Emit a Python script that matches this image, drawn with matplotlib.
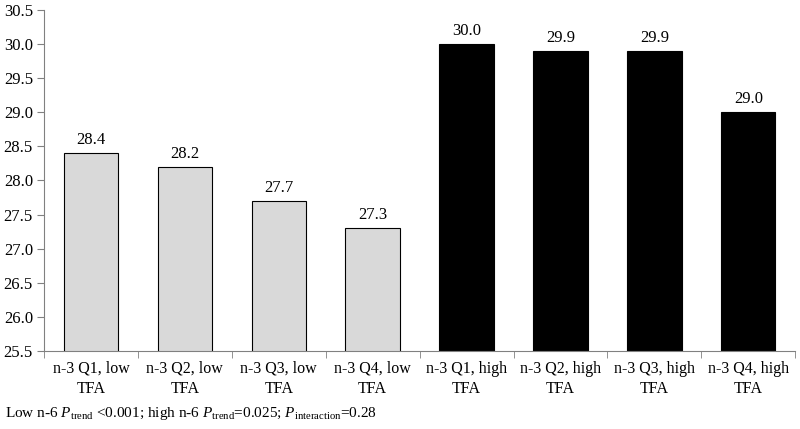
import numpy as np
import matplotlib
matplotlib.use("Agg")
import matplotlib.pyplot as plt

plt.rcParams['font.family'] = ['Liberation Serif', 'DejaVu Serif']
plt.rcParams['mathtext.fontset'] = 'custom'
plt.rcParams['mathtext.rm'] = 'Liberation Serif'
plt.rcParams['mathtext.it'] = 'Liberation Serif:italic'

categories = ['n-3 Q1, low\nTFA', 'n-3 Q2, low\nTFA', 'n-3 Q3, low\nTFA', 'n-3 Q4, low\nTFA',
              'n-3 Q1, high\nTFA', 'n-3 Q2, high\nTFA', 'n-3 Q3, high\nTFA', 'n-3 Q4, high\nTFA']
values = [28.4, 28.2, 27.7, 27.3, 30.0, 29.9, 29.9, 29.0]
colors = ['#d9d9d9'] * 4 + ['#000000'] * 4
yticks = np.arange(25.5, 30.51, 0.5)

fig = plt.figure(figsize=(8, 4.29), dpi=100)
ax = fig.add_axes([0.055, 0.182, 0.939, 0.795])

x = np.arange(len(categories))
ax.bar(x, values, width=0.58, color=colors, edgecolor='#000000', linewidth=0.8)
for xi, v in zip(x, values):
    ax.text(xi, v + 0.07, '%.1f' % v, ha='center', va='bottom', fontsize=12)

ax.set_ylim(25.5, 30.5)
ax.set_xlim(-0.5, len(categories) - 0.5)
ax.set_yticks(yticks)
ax.set_yticklabels(['%.1f' % t for t in yticks], fontsize=12)
ax.set_xticks(x)
ax.set_xticklabels(categories, fontsize=11.5, linespacing=1.4)
ax.tick_params(axis='x', length=0, pad=7)
ax.set_xticks(np.arange(-0.5, len(categories), 1.0), minor=True)
ax.tick_params(axis='x', which='minor', length=5, color='#808080')
ax.tick_params(axis='y', length=5, color='#808080', pad=3)

for s in ['top', 'right']:
    ax.spines[s].set_visible(False)
for s in ['left', 'bottom']:
    ax.spines[s].set_color('#808080')
    ax.spines[s].set_linewidth(0.8)

fig.text(0.006, 0.035,
         r'Low n-6 $\mathit{P}_{\mathrm{trend}}$ <0.001; high n-6 $\mathit{P}_{\mathrm{trend}}$=0.025; '
         r'$\mathit{P}_{\mathrm{interaction}}$=0.28',
         fontsize=11, ha='left', va='center')

fig.savefig('out.png', dpi=100)
